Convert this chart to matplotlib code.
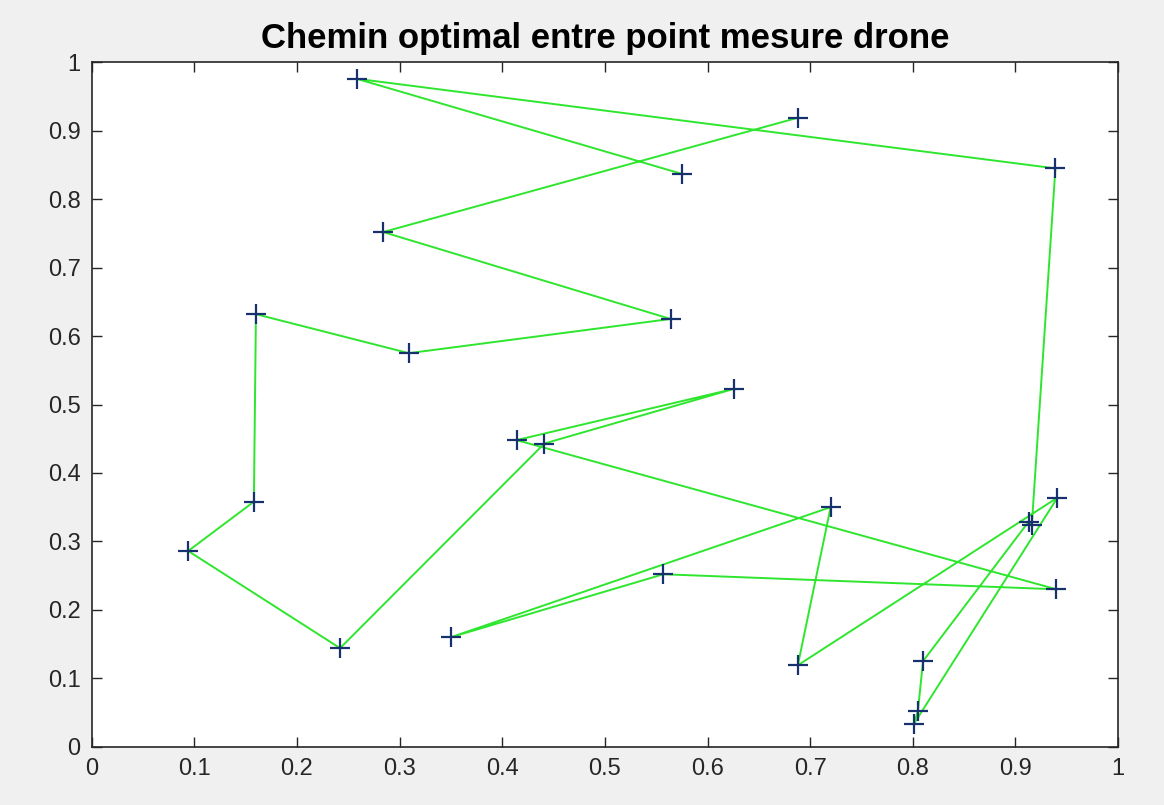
import numpy as np
import matplotlib.pyplot as plt

# points de mesure du drone, dans l'ordre du chemin
x_pts = [0.688, 0.284, 0.564, 0.309, 0.160, 0.158, 0.094, 0.242, 0.441, 0.626,
         0.414, 0.940, 0.557, 0.350, 0.720, 0.688, 0.941, 0.801, 0.805, 0.810,
         0.913, 0.916, 0.939, 0.258, 0.575]
y_pts = [0.919, 0.752, 0.625, 0.575, 0.632, 0.358, 0.286, 0.144, 0.443, 0.523,
         0.448, 0.230, 0.252, 0.160, 0.350, 0.119, 0.364, 0.033, 0.052, 0.125,
         0.329, 0.324, 0.845, 0.976, 0.837]

ticks = np.round(np.arange(0, 1.01, 0.1), 1)
tick_labels = ['0', '0.1', '0.2', '0.3', '0.4', '0.5', '0.6', '0.7', '0.8', '0.9', '1']

plt.rcParams['font.family'] = ['Liberation Sans', 'DejaVu Sans']

fig = plt.figure(figsize=(11.64, 8.05), dpi=100, facecolor='#f0f0f0')
ax = fig.add_axes([0.0788, 0.0724, 0.8817, 0.8502])
ax.set_facecolor('white')

# chemin
ax.plot(x_pts, y_pts, color='#2ee62e', lw=1.4, zorder=2)
# points
ax.plot(x_pts, y_pts, ls='none', marker='+', ms=14, mew=1.6,
        color='#17306e', zorder=3)

ax.set_xlim(0, 1)
ax.set_ylim(0, 1)
ax.set_xticks(ticks)
ax.set_yticks(ticks)
ax.set_xticklabels(tick_labels)
ax.set_yticklabels(tick_labels)
ax.tick_params(direction='in', length=7, width=1, colors='#262626',
               labelsize=17, top=True, right=True, pad=8)
for s in ax.spines.values():
    s.set_color('#262626')
    s.set_linewidth(1.2)

ax.set_title('Chemin optimal entre point mesure drone', fontsize=25,
             fontweight='bold', pad=10)

plt.savefig('out.png', dpi=100, facecolor=fig.get_facecolor())
